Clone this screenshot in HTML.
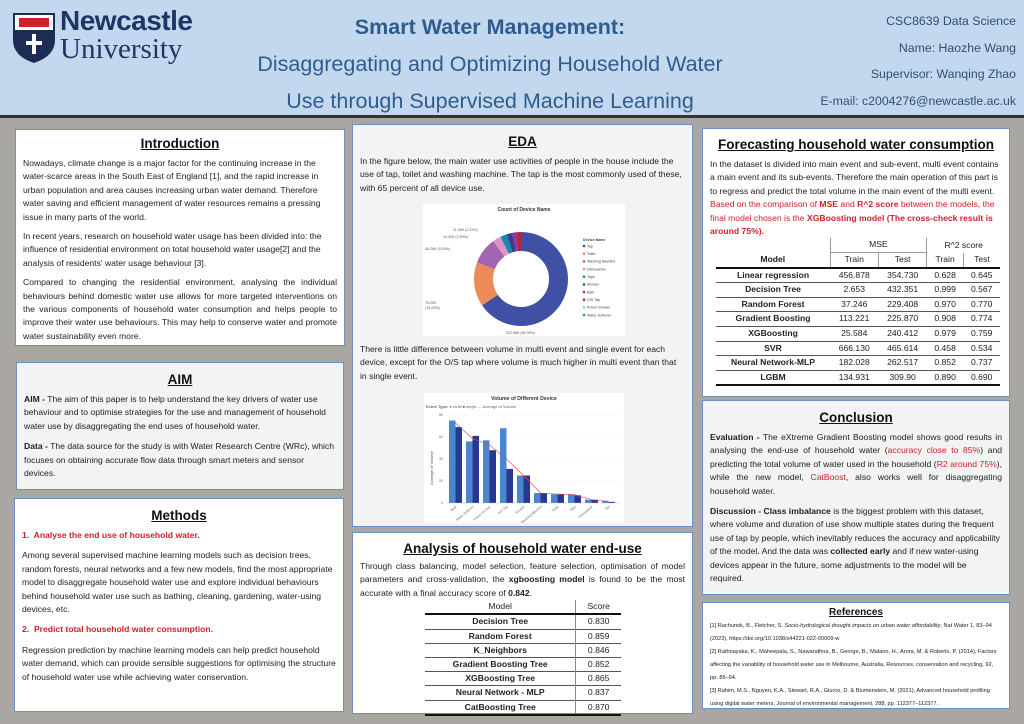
<!DOCTYPE html>
<html><head><meta charset="utf-8"><style>
*{margin:0;padding:0;box-sizing:border-box}
body{width:1024px;height:724px;background:#a9a6a4;font-family:"Liberation Sans",sans-serif;position:relative;overflow:hidden;color:#222}
.hdr{position:absolute;left:0;top:0;width:1024px;height:118px;background:#c3d8ee;border-bottom:3px solid #333}
.box{position:absolute;border:1.5px solid #6f8fc0;background:#fff;padding:0 7px;font-size:8.6px;line-height:13.4px}
.g{background:#f2f3f3}
h2{font-size:13.5px;text-align:center;text-decoration:underline;font-weight:bold;color:#111;line-height:18px;margin-bottom:4px}
p{margin-bottom:7px}
.j{text-align:justify}
.r{color:#d0202a}
table{border-collapse:collapse;font-size:8.6px}
td,th{padding:0 4px;line-height:13.6px;text-align:center}
.an td{line-height:13.2px}
</style></head><body>
<div class="hdr">
 <svg style="position:absolute;left:12px;top:12px" width="44" height="52" viewBox="0 0 44 52">
  <path d="M1 1H43V28Q43 44 22 51Q1 44 1 28Z" fill="#1c2c54"/>
  <rect x="3" y="3" width="38" height="15" fill="#fff"/>
  <path d="M7 6h30v9H7z" fill="#d3202f"/>
  <path d="M20 22h4v7h6v4h-6v9h-4v-9h-6v-4h6z" fill="#fff"/>
 </svg>
 <div style="position:absolute;left:60px;top:5px;font-size:28px;font-weight:bold;color:#1f3664;letter-spacing:-0.5px">Newcastle</div>
 <div style="position:absolute;left:60px;top:33px;font-size:29px;font-family:'Liberation Serif',serif;color:#1f3664">University</div>
 <div style="position:absolute;left:230px;width:520px;top:9px;text-align:center;font-size:21.5px;line-height:37px;color:#2e5c8e">
  <b>Smart Water Management:</b><br>Disaggregating and Optimizing Household Water<br>Use through Supervised Machine Learning</div>
 <div style="position:absolute;right:8px;top:8px;text-align:right;font-size:12.3px;line-height:26.5px;color:#2f4f73">CSC8639 Data Science<br>Name: Haozhe Wang<br>Supervisor: Wanqing Zhao<br>E-mail: c2004276@newcastle.ac.uk</div>
</div>

<div class="box" style="left:15px;top:129px;width:330px;height:217px;padding-top:5px">
<h2>Introduction</h2>
<p style="margin-bottom:6px">Nowadays, climate change is a major factor for the continuing increase in the water-scarce areas in the South East of England [1], and the rapid increase in urban population and area causes increasing urban water demand. Therefore water saving and efficient management of water resources remains a pressing issue in many parts of the world.</p>
<p style="margin-bottom:6px">In recent years, research on household water usage has been divided into: the influence of residential environment on total household water usage[2] and the analysis of residents' water usage behaviour [3].</p>
<p class="j">Compared to changing the residential environment, analysing the individual behaviours behind domestic water use allows for more targeted interventions on the various components of household water consumption and helps people to improve their water use behaviours. This may help to conserve water and promote water sustainability even more.</p>
</div>

<div class="box g" style="left:16px;top:362px;width:328px;height:128px;padding-top:8px">
<h2>AIM</h2>
<p><b>AIM -</b> The aim of this paper is to help understand the key drivers of water use behaviour and to optimise strategies for the use and management of household water use by disaggregating the end uses of household water.</p>
<p><b>Data -</b> The data source for the study is with Water Research Centre (WRc), which focuses on obtaining accurate flow data through smart meters and sensor devices.</p>
</div>

<div class="box" style="left:14px;top:498px;width:330px;height:214px;padding-top:8px">
<h2>Methods</h2>
<p class="r"><b>1.&nbsp; Analyse the end use of household water.</b></p>
<p>Among several supervised machine learning models such as decision trees, random forests, neural networks and a few new models, find the most appropriate model to disaggregate household water use and explore individual behaviours behind household water use such as bathing, cleaning, gardening, water-using devices, etc.</p>
<p class="r"><b>2.&nbsp; Predict total household water consumption.</b></p>
<p>Regression prediction by machine learning models can help predict household water demand, which can provide sensible suggestions for optimising the structure of household water use while achieving water conservation.</p>
</div>

<div class="box g" style="left:352px;top:124px;width:341px;height:403px;padding-top:8px">
<h2>EDA</h2>
<p>In the figure below, the main water use activities of people in the house include the use of tap, toilet and washing machine. The tap is the most commonly used of these, with 65 percent of all device use.</p>
<svg style="position:absolute;left:70px;top:79px" width="202" height="132" viewBox="0 0 202 132">
 <rect width="202" height="132" fill="#fff"/>
 <text x="101" y="7" font-size="5" text-anchor="middle" font-weight="bold" fill="#333">Count of Device Name</text>
 <g transform="translate(98,75)">
  <circle r="37.5" fill="none" stroke="#4050a4" stroke-width="19" stroke-dasharray="154.1 300" transform="rotate(-90)"/>
  <circle r="37.5" fill="none" stroke="#ec8a5a" stroke-width="19" stroke-dasharray="0 154.1 35.8 300" transform="rotate(-90)"/>
  <circle r="37.5" fill="none" stroke="#a064b0" stroke-width="19" stroke-dasharray="0 189.9 21.6 300" transform="rotate(-90)"/>
  <circle r="37.5" fill="none" stroke="#e58fc8" stroke-width="19" stroke-dasharray="0 211.5 6.8 300" transform="rotate(-90)"/>
  <circle r="37.5" fill="none" stroke="#168aae" stroke-width="19" stroke-dasharray="0 218.3 5.3 300" transform="rotate(-90)"/>
  <circle r="37.5" fill="none" stroke="#3c3c8c" stroke-width="19" stroke-dasharray="0 223.6 4.6 300" transform="rotate(-90)"/>
  <circle r="37.5" fill="none" stroke="#8a3aa0" stroke-width="19" stroke-dasharray="0 228.2 3 300" transform="rotate(-90)"/>
  <circle r="37.5" fill="none" stroke="#b02838" stroke-width="19" stroke-dasharray="0 231.2 4.4 300" transform="rotate(-90)"/>
 </g>
 <g font-size="3.6" fill="#555">
  <text x="30" y="27">11.00K (2.23%)</text><text x="20" y="34">14.32K (2.90%)</text><text x="2" y="46">45.26K (9.16%)</text>
  <text x="2" y="100">75.20K</text><text x="2" y="105">(15.23%)</text><text x="83" y="130">322.88K (65.39%)</text>
 </g>
 <g font-size="3.6" fill="#444">
  <text x="160" y="37" font-weight="bold">Device Name</text>
  <circle cx="161" cy="42" r="1.3" fill="#4050a4"/><text x="164" y="43.3">Tap</text>
  <circle cx="161" cy="49.7" r="1.3" fill="#ec8a5a"/><text x="164" y="51">Toilet</text>
  <circle cx="161" cy="57.4" r="1.3" fill="#a064b0"/><text x="164" y="58.7">Washing Machine</text>
  <circle cx="161" cy="65" r="1.3" fill="#e58fc8"/><text x="164" y="66.3">Dishwasher</text>
  <circle cx="161" cy="72.7" r="1.3" fill="#168aae"/><text x="164" y="74">Taps</text>
  <circle cx="161" cy="80.4" r="1.3" fill="#3c3c8c"/><text x="164" y="81.7">Shower</text>
  <circle cx="161" cy="88" r="1.3" fill="#8a3aa0"/><text x="164" y="89.3">Bath</text>
  <circle cx="161" cy="95.7" r="1.3" fill="#b02838"/><text x="164" y="97">O/S Tap</text>
  <circle cx="161" cy="103.4" r="1.3" fill="#8cc8ec"/><text x="164" y="104.7">Power Shower</text>
  <circle cx="161" cy="111" r="1.3" fill="#3a9a4a"/><text x="164" y="112.3">Water Softener</text>
 </g>
</svg>
<p style="position:absolute;top:218px;left:7px;right:7px">There is little difference between volume in multi event and single event for each device, except for the O/S tap where volume is much higher in multi event than that in single event.</p>
<svg style="position:absolute;left:71px;top:268px" width="200" height="130" viewBox="0 0 200 130">
 <rect width="200" height="130" fill="#fff"/>
 <text x="100" y="7" font-size="5.2" text-anchor="middle" font-weight="bold" fill="#333">Volume of Different Device</text>
 <g font-size="4" fill="#666"><text x="2" y="15"><tspan font-weight="bold">Event Type:</tspan> <tspan fill="#3f7fc8">●</tspan> multi <tspan fill="#26348c">●</tspan> single <tspan fill="#e04040">—</tspan> Average of Volume</text></g>
 <g stroke="#ddd" stroke-width="0.4" stroke-dasharray="1 1"><line x1="22" x2="196" y1="22" y2="22"/><line x1="22" x2="196" y1="44" y2="44"/><line x1="22" x2="196" y1="66" y2="66"/><line x1="22" x2="196" y1="88" y2="88"/></g>
 <g font-size="3.5" fill="#666" text-anchor="end"><text x="19" y="23">80</text><text x="19" y="45">60</text><text x="19" y="67">40</text><text x="19" y="89">20</text><text x="19" y="111">0</text></g>
 <text transform="translate(9,75) rotate(-90)" font-size="4" fill="#555" text-anchor="middle">Average of Volume</text>
 <g fill="#4a86cc">
  <rect x="25" y="27.5" width="6.5" height="82.5"/><rect x="42" y="48.4" width="6.5" height="61.6"/><rect x="59" y="47.3" width="6.5" height="62.7"/><rect x="76" y="35.2" width="6.5" height="74.8"/><rect x="93" y="82.5" width="6.5" height="27.5"/><rect x="110" y="100" width="6.5" height="10"/><rect x="127" y="101.2" width="6.5" height="8.8"/><rect x="144" y="101.2" width="6.5" height="8.8"/><rect x="161" y="106.7" width="6.5" height="3.3"/><rect x="178" y="107.8" width="6.5" height="2.2"/>
 </g>
 <g fill="#283890">
  <rect x="31.5" y="34.1" width="6.5" height="75.9"/><rect x="48.5" y="42.9" width="6.5" height="67.1"/><rect x="65.5" y="57.2" width="6.5" height="52.8"/><rect x="82.5" y="75.9" width="6.5" height="34.1"/><rect x="99.5" y="82.5" width="6.5" height="27.5"/><rect x="116.5" y="100" width="6.5" height="10"/><rect x="133.5" y="101.2" width="6.5" height="8.8"/><rect x="150.5" y="102.3" width="6.5" height="7.7"/><rect x="167.5" y="106.7" width="6.5" height="3.3"/><rect x="184.5" y="108.9" width="6.5" height="1.1"/>
 </g>
 <polyline fill="none" stroke="#e04848" stroke-width="0.6" points="31.5,30 48.5,45.5 65.5,52 82.5,66 99.5,82.5 116.5,100 133.5,101 150.5,101.7 167.5,106.7 184.5,108.5"/>
 <line x1="22" x2="196" y1="110" y2="110" stroke="#bbb" stroke-width="0.4"/>
 <g font-size="3.3" fill="#666" text-anchor="end">
  <text transform="translate(33,114) rotate(-40)">Bath</text><text transform="translate(50,114) rotate(-40)">Water Softener</text><text transform="translate(67,114) rotate(-40)">Power Shower</text><text transform="translate(84,114) rotate(-40)">O/S Tap</text><text transform="translate(101,114) rotate(-40)">Shower</text><text transform="translate(118,114) rotate(-40)">Washing Machine</text><text transform="translate(135,114) rotate(-40)">Toilet</text><text transform="translate(152,114) rotate(-40)">Taps</text><text transform="translate(169,114) rotate(-40)">Dishwasher</text><text transform="translate(186,114) rotate(-40)">Tap</text>
 </g>
</svg>
</div>

<div class="box" style="left:352px;top:532px;width:341px;height:182px;padding-top:7px">
<h2 style="margin-bottom:2px">Analysis of household water end-use</h2>
<p class="j" style="margin-bottom:0">Through class balancing, model selection, feature selection, optimisation of model parameters and cross-validation, the <b>xgboosting model</b> is found to be the most accurate with a final accuracy score of <b>0.842</b>.</p>
<table class="an" style="margin-left:65px;width:196px">
<tr><td style="border-right:1px solid #888">Model</td><td>Score</td></tr>
<tr style="border-top:2px solid #111"><td style="border-right:1px solid #888"><b>Decision Tree</b></td><td>0.830</td></tr>
<tr style="border-top:1px solid #555"><td style="border-right:1px solid #888"><b>Random Forest</b></td><td>0.859</td></tr>
<tr style="border-top:1px solid #555"><td style="border-right:1px solid #888"><b>K_Neighbors</b></td><td>0.846</td></tr>
<tr style="border-top:1px solid #555"><td style="border-right:1px solid #888"><b>Gradient Boosting Tree</b></td><td>0.852</td></tr>
<tr style="border-top:1px solid #555"><td style="border-right:1px solid #888"><b>XGBoosting Tree</b></td><td>0.865</td></tr>
<tr style="border-top:1px solid #555"><td style="border-right:1px solid #888"><b>Neural Network - MLP</b></td><td>0.837</td></tr>
<tr style="border-top:1px solid #555;border-bottom:2px solid #111"><td style="border-right:1px solid #888"><b>CatBoosting Tree</b></td><td>0.870</td></tr>
</table>
</div>

<div class="box" style="left:702px;top:128px;width:308px;height:269px;padding-top:7px">
<h2>Forecasting household water consumption</h2>
<p style="margin-bottom:0">In the dataset is divided into main event and sub-event, multi event contains a main event and its sub-events. Therefore the main operation of this part is to regress and predict the total volume in the main event of the multi event.</p>
<p class="r" style="margin-bottom:0">Based on the comparison of <b>MSE</b> and <b>R^2 score</b> between the models, the final model chosen is the <b>XGBoosting model (The cross-check result is around 75%).</b></p>
<table style="margin-left:6px;width:284px">
<tr><td style="border-right:1px solid #999"></td><td colspan="2" style="border-right:1px solid #999;border-bottom:1px solid #999">MSE</td><td colspan="2">R^2 score</td></tr>
<tr><td style="border-right:1px solid #999"><b>Model</b></td><td style="border-right:1px solid #999">Train</td><td style="border-right:1px solid #999">Test</td><td style="border-right:1px solid #999">Train</td><td>Test</td></tr>
<tr style="border-top:2px solid #111"><td><b>Linear regression</b></td><td>456.878</td><td>354.730</td><td>0.628</td><td>0.645</td></tr>
<tr style="border-top:1px solid #555"><td><b>Decision Tree</b></td><td>2.653</td><td>432.351</td><td>0.999</td><td>0.567</td></tr>
<tr style="border-top:1px solid #555"><td><b>Random Forest</b></td><td>37.246</td><td>229.408</td><td>0.970</td><td>0.770</td></tr>
<tr style="border-top:1px solid #555"><td><b>Gradient Boosting</b></td><td>113.221</td><td>225.870</td><td>0.908</td><td>0.774</td></tr>
<tr style="border-top:1px solid #555"><td><b>XGBoosting</b></td><td>25.584</td><td>240.412</td><td>0.979</td><td>0.759</td></tr>
<tr style="border-top:1px solid #555"><td><b>SVR</b></td><td>666.130</td><td>465.614</td><td>0.458</td><td>0.534</td></tr>
<tr style="border-top:1px solid #555"><td><b>Neural Network-MLP</b></td><td>182.028</td><td>262.517</td><td>0.852</td><td>0.737</td></tr>
<tr style="border-top:1px solid #555;border-bottom:2px solid #111"><td><b>LGBM</b></td><td>134.931</td><td>309.90</td><td>0.890</td><td>0.690</td></tr>
</table>
</div>

<div class="box g" style="left:702px;top:400px;width:308px;height:195px;padding-top:8px">
<h2>Conclusion</h2>
<p class="j"><b>Evaluation -</b> The eXtreme Gradient Boosting model shows good results in analysing the end-use of household water (<span class="r">accuracy close to 85%</span>) and predicting the total volume of water used in the household (<span class="r">R2 around 75%</span>), while the new model, <span class="r">CatBoost</span>, also works well for disaggregating household water.</p>
<p><b>Discussion - Class imbalance</b> is the biggest problem with this dataset, where volume and duration of use show multiple states during the frequent use of tap by people, which inevitably reduces the accuracy and applicability of the model. And the data was <b>collected early</b> and if new water-using devices appear in the future, some adjustments to the model will be required.</p>
</div>

<div class="box" style="left:702px;top:602px;width:308px;height:107px;padding-top:3px;font-size:5.6px;line-height:13px">
<h2 style="font-size:10px;line-height:14px;margin-bottom:0">References</h2>
<div>[1] Rachunok, B., Fletcher, S. <i>Socio-hydrological drought impacts on urban water affordability</i>, Nat Water 1, 83–94 (2023), https://doi.org/10.1038/s44221-022-00009-w</div>
<div>[2] Rathnayaka, K., Maheepala, S., Nawarathna, B., George, B., Malano, H., Arora, M. &amp; Roberts, P. (2014), Factors affecting the variability of household water use in Melbourne, Australia, Resources, conservation and recycling, 92, pp. 85–94.</div>
<div>[3] Rahim, M.S., Nguyen, K.A., Stewart, R.A., Giurco, D. &amp; Blumenstein, M. (2021), Advanced household profiling using digital water meters, Journal of environmental management, 288, pp. 112377–112377.</div>
</div>
</body></html>
